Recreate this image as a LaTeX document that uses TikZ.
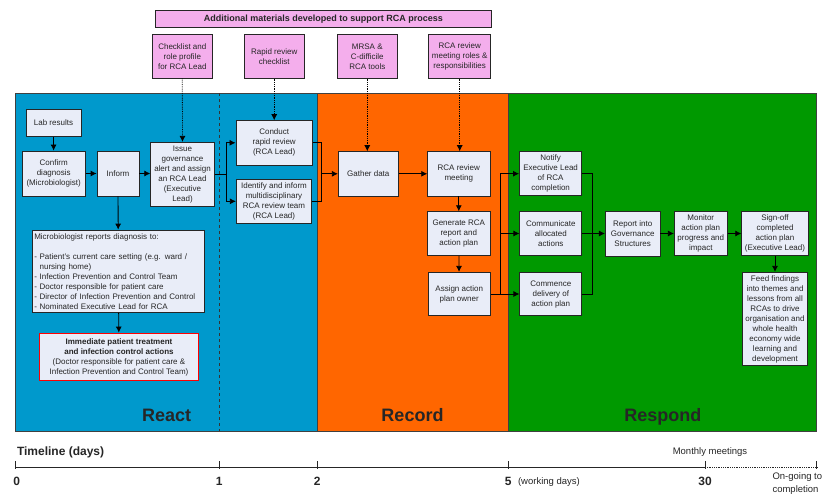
\documentclass[tikz,border=0pt]{standalone}
\usepackage{fontspec}
\setmainfont{Liberation Sans}
\usetikzlibrary{arrows.meta}
\definecolor{reactblue}{HTML}{0099CC}
\definecolor{recordorange}{HTML}{FF6600}
\definecolor{respondgreen}{HTML}{009900}
\definecolor{pinkbox}{HTML}{F4AEEC}
\definecolor{boxfill}{HTML}{E9EDF8}
\begin{document}
\begin{tikzpicture}[x=1pt,y=-1pt,
  box/.style={draw=black!85, line width=0.8pt, fill=boxfill, align=center,
    font=\fontsize{8}{10}\selectfont, inner sep=1pt, text=black!85},
  pbox/.style={box, fill=pinkbox},
  conn/.style={draw=black, line width=0.8pt, -{Latex[length=6pt,width=6pt]}},
  plain/.style={draw=black, line width=0.8pt},
  dotconn/.style={draw=black, line width=0.8pt, densely dotted, -{Latex[length=6pt,width=6pt]}},
  region/.style={draw=black!75, line width=0.8pt},
  phase/.style={font=\fontsize{18}{20}\selectfont\bfseries, text=black!85, anchor=base, inner sep=0pt},
  tl/.style={font=\fontsize{12}{14}\selectfont\bfseries, text=black!85},
  tlsmall/.style={font=\fontsize{9.5}{11}\selectfont, text=black!85}
]
\useasboundingbox (0,0) rectangle (822,494);
% regions
\fill[reactblue] (15.7,93.3) rectangle (317.3,431);
\fill[recordorange] (317.3,93.3) rectangle (508.3,431);
\fill[respondgreen] (508.3,93.3) rectangle (816.7,431);
\draw[region] (15.7,93.3) rectangle (816.7,431);
\draw[region] (317.3,93.3) -- (317.3,431);
\draw[region] (508.3,93.3) -- (508.3,431);
\draw[black!80, line width=0.8pt, dashed] (219.3,93.3) -- (219.3,431);
\node[phase] (lreact) at (166.7,421.5) {React};
\node[phase] (lrecord) at (412.5,421.5) {Record};
\node[phase] (lrespond) at (662.8,421.5) {Respond};

% pink boxes
\node[pbox, font=\fontsize{9}{11}\selectfont\bfseries, minimum width=335.3pt, minimum height=17.7pt] (hdr) at (323.3,18.8) {Additional materials developed to support RCA process};
\node[pbox, minimum width=60pt, minimum height=43.6pt] (p1) at (182.3,56.5) {Checklist and\\role profile\\for RCA Lead};
\node[pbox, minimum width=59.7pt, minimum height=43.6pt] (p2) at (274.2,56.5) {Rapid review\\checklist};
\node[pbox, minimum width=60.7pt, minimum height=43.6pt] (p3) at (367.3,56.5) {MRSA \&\\C-difficile\\RCA tools};
\node[pbox, minimum width=62pt, minimum height=43.6pt] (p4) at (459.7,56.5) {RCA review\\meeting roles \&\\responsibilities};

% react boxes
\node[box, minimum width=55pt, minimum height=27.7pt] (lab) at (53.5,122.9) {Lab results};
\node[box, minimum width=63.3pt, minimum height=45pt] (confirm) at (53.7,173.5) {Confirm\\diagnosis\\(Microbiologist)};
\node[box, minimum width=42pt, minimum height=45pt] (inform) at (118,173.5) {Inform};
\node[box, minimum width=63.6pt, minimum height=64.4pt] (issue) at (182.5,174.5) {Issue\\governance\\alert and assign\\an RCA Lead\\(Executive\\Lead)};
\node[box, minimum width=76.5pt, minimum height=44.3pt] (conduct) at (274.2,142.8) {Conduct\\rapid review\\(RCA Lead)};
\node[box, minimum width=75.5pt, minimum height=44pt] (identify) at (274,201.3) {Identify and inform\\multidisciplinary\\RCA review team\\(RCA Lead)};
\node[box, align=left, text width=168pt, inner xsep=2pt, minimum height=82.3pt] (micro) at (118.3,271.2) {Microbiologist reports diagnosis to:\\[10pt]
- Patient's current care setting (e.g. ward /\\
\phantom{- }nursing home)\\
- Infection Prevention and Control Team\\
- Doctor responsible for patient care\\
- Director of Infection Prevention and Control\\
- Nominated Executive Lead for RCA};
\node[box, draw=red, line width=1.4pt, minimum width=158.6pt, minimum height=47.4pt] (immediate) at (119,357) {\textbf{Immediate patient treatment}\\\textbf{and infection control actions}\\(Doctor responsible for patient care \&\\Infection Prevention and Control Team)};

% record boxes
\node[box, minimum width=60pt, minimum height=44.3pt] (gather) at (368.3,173.8) {Gather data};
\node[box, minimum width=62.3pt, minimum height=44.3pt] (meet) at (458.8,173.8) {RCA review\\meeting};
\node[box, minimum width=62.3pt, minimum height=44pt] (generate) at (458.8,233.7) {Generate RCA\\report and\\action plan};
\node[box, minimum width=62.3pt, minimum height=43.4pt] (assign) at (459.2,294) {Assign action\\plan owner};

% respond boxes
\node[box, minimum width=62.4pt, minimum height=44pt] (notify) at (550.6,173.7) {Notify\\Executive Lead\\of RCA\\completion};
\node[box, minimum width=62pt, minimum height=44.4pt] (communicate) at (550.8,233.5) {Communicate\\allocated\\actions};
\node[box, minimum width=62pt, minimum height=43pt] (commence) at (550.8,294.2) {Commence\\delivery of\\action plan};
\node[box, minimum width=54.7pt, minimum height=45.4pt] (report) at (632.7,234) {Report into\\Governance\\Structures};
\node[box, minimum width=53pt, minimum height=44.4pt] (monitor) at (700.8,233.5) {Monitor\\action plan\\progress and\\impact};
\node[box, minimum width=66.6pt, minimum height=44.4pt] (signoff) at (775,233.5) {Sign-off\\completed\\action plan\\(Executive Lead)};
\node[box, minimum width=64.6pt, minimum height=93.4pt] (feed) at (775,319) {Feed findings\\into themes and\\lessons from all\\RCAs to drive\\organisation and\\whole health\\economy wide\\learning and\\development};

% junction coordinates
\coordinate (j1) at (226.7,174.3);
\coordinate (j2) at (321,173.8);
\coordinate (j3) at (500,294);
\coordinate (j4) at (592.7,233.5);

% connectors react
\draw[conn] (lab) -- (confirm);
\draw[conn] (confirm) -- (inform);
\draw[conn] (inform.east) -- (inform.east -| issue.west);
\draw[conn] (inform) -- (micro);
\draw[conn] (micro) -- (immediate);
\draw[plain] (issue.east |- j1) -- (j1);
\draw[conn] (j1) |- (conduct.west);
\draw[conn] (j1) |- (identify.west);
\draw[plain] (conduct.east) -| (j2);
\draw[plain] (identify.east) -| (j2);
\draw[conn] (j2) -- (gather.west |- j2);
% record
\draw[conn] (gather) -- (meet);
\draw[conn] (meet) -- (generate);
\draw[conn] (generate) -- (assign);
\draw[plain] (assign.east |- j3) -- (j3);
\draw[conn] (j3) |- (notify.west);
\draw[conn] (j3) |- (communicate.west);
\draw[conn] (j3) -- (commence.west |- j3);
% respond
\draw[plain] (notify.east) -| (j4);
\draw[plain] (commence.east) -| (j4);
\draw[plain] (communicate.east) -- (j4);
\draw[conn] (j4) -- (report.west |- j4);
\draw[conn] (report.east |- j4) -- (monitor.west |- j4);
\draw[conn] (monitor.east |- j4) -- (signoff.west |- j4);
\draw[conn] (signoff) -- (feed);

% dotted links from materials
\draw[dotconn] (p1.south) -- (issue.north);
\draw[dotconn] (p2.south) -- (p2.south |- conduct.north);
\draw[dotconn] (p3.south) -- (p3.south |- gather.north);
\draw[dotconn] (p4.south) -- (p4.south |- meet.north);

% timeline
\node[tl, anchor=west] (tltitle) at (13.5,452.3) {Timeline (days)};
\coordinate (t0) at (15.7,467.3);
\coordinate (t1) at (219.3,467.3);
\coordinate (t2) at (317.3,467.3);
\coordinate (t5) at (508.3,467.3);
\coordinate (t30) at (705,467.3);
\coordinate (tend) at (816.7,467.3);
\draw[black!85, line width=0.8pt] (t0) -- (t30);
\draw[black!85, line width=0.8pt, densely dotted] (t30) -- (tend);
\foreach \t in {t0,t1,t2,t5,t30,tend}
  \draw[black!85, line width=0.8pt] ([yshift=6pt]\t) -- ([yshift=-2pt]\t);
\node[tl] (n0) at (16.7,481.7) {0};
\node[tl] (n1) at (219.3,481.7) {1};
\node[tl] (n2) at (317.3,481.7) {2};
\node[tl] (n5) at (508.3,481.7) {5};
\node[tlsmall, anchor=west] (wd) at (514.5,482.5) {(working days)};
\node[tl] (n30) at (705,481.7) {30};
\node[tlsmall] (mm) at (710,452.3) {Monthly meetings};
\node[tlsmall, anchor=west, align=left, font=\fontsize{9.5}{12.5}\selectfont] (og) at (769,483.5) {On-going to\\completion};
\end{tikzpicture}
\end{document}
